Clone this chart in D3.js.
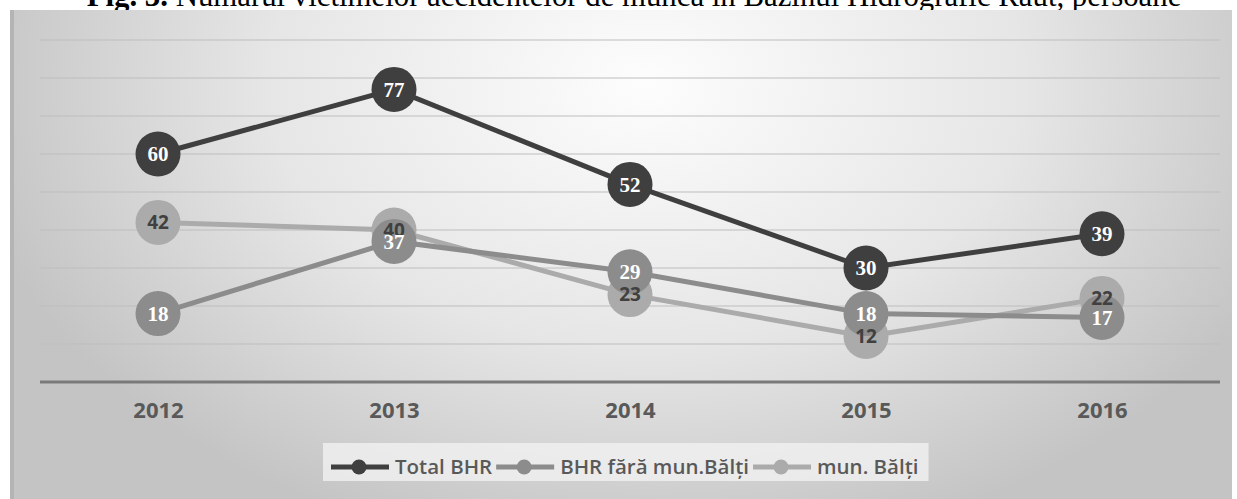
<!DOCTYPE html>
<html>
<head>
<meta charset="utf-8">
<script src="https://cdn.jsdelivr.net/npm/d3@7"></script>
<style>
  body { margin: 0; background: #fff; }
  svg { display: block; }
</style>
</head>
<body>
<div id="chart"></div>
<script>
// data
var years = ["2012", "2013", "2014", "2015", "2016"];
var totalBHR = [60, 77, 52, 30, 39];
var bhrFara = [18, 37, 29, 18, 17];
var munBalti = [42, 40, 23, 12, 22];
var seriesNames = ["Total BHR", "BHR fără mun.Bălți", "mun. Bălți"];
var yTicks = [0, 10, 20, 30, 40, 50, 60, 70, 80, 90];

var W = 1237, H = 499;

var svg = d3.select("#chart")
    .append("svg")
    .attr("width", W)
    .attr("height", H);

var defs = svg.append("defs");
var grad = defs.append("radialGradient")
    .attr("id", "bg")
    .attr("cx", "0.52").attr("cy", "0.15")
    .attr("r", "0.75")
    .attr("gradientTransform", "translate(0.52,0.15) scale(0.75,1.3) translate(-0.52,-0.15)");
grad.append("stop").attr("offset", "0%").attr("stop-color", "#fdfdfd");
grad.append("stop").attr("offset", "55%").attr("stop-color", "#e6e6e6");
grad.append("stop").attr("offset", "100%").attr("stop-color", "#c4c4c4");

// title, cut off at top of the page
var title = svg.append("text")
    .attr("x", 634)
    .attr("y", 6)
    .attr("text-anchor", "middle")
    .style("font-family", "'Liberation Serif', 'Times New Roman', serif")
    .style("font-size", "30.8px")
    .style("fill", "#000");
title.append("tspan").style("font-weight", "bold").text("Fig. 3. ");
title.append("tspan").text("Numărul victimelor accidentelor de muncă în Bazinul Hidrografic Răut, persoane");

// chart frame
svg.append("rect")
    .attr("x", 10).attr("y", 10)
    .attr("width", 1222).attr("height", 489)
    .style("fill", "url(#bg)");
svg.append("rect")
    .attr("x", 10).attr("y", 10)
    .attr("width", 4).attr("height", 489)
    .style("fill", "#b4b4b4");

var g = svg.append("g");

var x = d3.scalePoint()
    .domain(years)
    .range([40, 1220])
    .padding(0.5);

var y = d3.scaleLinear()
    .domain([0, 90])
    .range([382, 40]);

// gridlines
g.append("g")
    .selectAll("line")
    .data(yTicks.slice(1))
    .enter().append("line")
    .attr("x1", 40).attr("x2", 1220)
    .attr("y1", d => y(d)).attr("y2", d => y(d))
    .style("stroke", "#bdbdbd")
    .style("stroke-width", "1.2px");

// x axis
var xAxis = g.append("g")
    .attr("transform", "translate(0," + y(0) + ")")
    .call(d3.axisBottom(x).tickSize(0).tickPadding(20));
xAxis.select(".domain")
    .attr("d", "M40,0H1220")
    .style("stroke", "#7a7a7a")
    .style("stroke-width", "3px");
xAxis.selectAll("text")
    .style("font-family", "'Open Sans', sans-serif")
    .style("font-weight", "bold")
    .style("font-size", "22px")
    .style("fill", "#595959");

var series = [
    {name: seriesNames[2], values: munBalti, color: "#ababab", labelColor: "#404040", serif: false},
    {name: seriesNames[1], values: bhrFara, color: "#8c8c8c", labelColor: "#ffffff", serif: true},
    {name: seriesNames[0], values: totalBHR, color: "#3f3f3f", labelColor: "#ffffff", serif: true}
];

const line = d3.line()
    .x(function(d, i){ return x(years[i]); })
    .y(function(d){ return y(d); });

series.forEach(function(s){
    g.append("path")
        .datum(s.values)
        .attr("d", line)
        .style("fill", "none")
        .style("stroke", s.color)
        .style("stroke-width", "5px");
    g.append("g")
        .selectAll("circle")
        .data(s.values)
        .enter().append("circle")
        .attr("cx", (d, i) => x(years[i]))
        .attr("cy", d => y(d))
        .attr("r", 22.5)
        .style("fill", s.color);
});

// labels on top
series.forEach(function(s){
    g.append("g")
        .selectAll("text")
        .data(s.values)
        .enter().append("text")
        .attr("x", (d, i) => x(years[i]))
        .attr("y", d => y(d))
        .attr("dy", "0.35em")
        .attr("text-anchor", "middle")
        .style("font-family", s.serif ? "'Liberation Serif', serif" : "'Open Sans', sans-serif")
        .style("font-weight", "bold")
        .style("font-size", s.serif ? "21px" : "19px")
        .style("fill", s.labelColor)
        .text(d => d);
});

// legend
var legend = svg.append("g");
var legendBox = legend.append("rect")
    .attr("x", 323).attr("y", 443)
    .attr("height", 38)
    .style("fill", "#f1f1f1")
    .style("opacity", 0.8);

var legendItems = [
    {name: seriesNames[0], color: "#3f3f3f", r: 7.5},
    {name: seriesNames[1], color: "#8c8c8c", r: 7.5},
    {name: seriesNames[2], color: "#ababab", r: 7.5}
];
var lx = 331, ly = 467;
legendItems.forEach(function(it){
    legend.append("line")
        .attr("x1", lx).attr("x2", lx + 58)
        .attr("y1", ly).attr("y2", ly)
        .style("stroke", it.color)
        .style("stroke-width", "5px");
    legend.append("circle")
        .attr("cx", lx + 28).attr("cy", ly)
        .attr("r", it.r)
        .style("fill", it.color);
    var t = legend.append("text")
        .attr("x", lx + 64)
        .attr("y", ly)
        .attr("dy", "0.36em")
        .style("font-family", "'Open Sans', sans-serif")
        .style("font-weight", "600")
        .style("font-size", "20.5px")
        .style("fill", "#595959")
        .text(it.name);
    lx = lx + 64 + t.node().getComputedTextLength() + 4;
});
legendBox.attr("width", lx + 6 - 323);
</script>
</body>
</html>
